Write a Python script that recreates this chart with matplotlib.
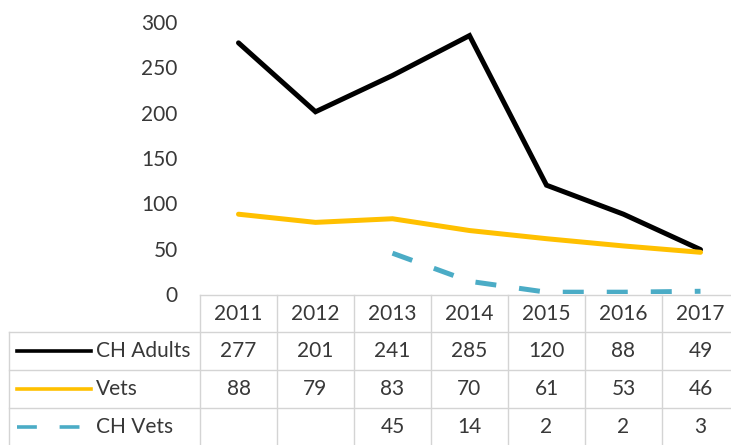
import numpy as np
import matplotlib
matplotlib.use("Agg")
import matplotlib.pyplot as plt
from matplotlib.lines import Line2D

years = ["2011", "2012", "2013", "2014", "2015", "2016", "2017"]
ch_adults = [277, 201, 241, 285, 120, 88, 49]
vets = [88, 79, 83, 70, 61, 53, 46]
ch_vets = [np.nan, np.nan, 45, 14, 2, 2, 3]
series_names = ["CH Adults", "Vets", "CH Vets"]
y_ticks = [0, 50, 100, 150, 200, 250, 300]

colors = ["#000000", "#FFC000", "#4BACC6"]
styles = ["-", "-", (0, (4.2, 4.6))]
key_styles = ["-", "-", (0, (5.5, 6.3))]
series = [ch_adults, vets, ch_vets]

W, H = 731, 445
fig = plt.figure(figsize=(W / 100, H / 100), dpi=100)
plt.rcParams['font.family'] = ['Lato', 'DejaVu Sans']
txt = "#383838"
grid = "#d4d4d4"
fs = 15

col_left, col_w = 200, 77
y0_px, y300_px = 294, 22
ax = fig.add_axes([col_left / W, (H - y0_px) / H, 7 * col_w / W, (y0_px - y300_px) / H])
x = np.arange(len(years))
for vals, c, ls in zip(series, colors, styles):
    ax.plot(x, vals, color=c, lw=3.6, ls=ls, solid_capstyle='round', dash_capstyle='butt',
            solid_joinstyle='miter')
ax.set_xlim(-0.5, 6.5)
ax.set_ylim(0, 300)
ax.set_yticks(y_ticks)
ax.set_yticklabels([str(v) for v in y_ticks], fontsize=fs, color=txt)
ax.tick_params(axis='y', length=0, pad=16)
ax.set_xticks([])
for s in ax.spines.values():
    s.set_visible(False)
ax.patch.set_alpha(0)

# table
tab = fig.add_axes([0, 0, 1, 1])
tab.set_xlim(0, W)
tab.set_ylim(H, 0)
tab.axis('off')
tab.patch.set_alpha(0)
row_tops = [295, 332, 370, 408, 446]
left_edge = 9
# horizontal lines
tab.plot([col_left, W], [row_tops[0]] * 2, color=grid, lw=1)
for yy in row_tops[1:4]:
    tab.plot([left_edge, W], [yy] * 2, color=grid, lw=1)
# vertical lines
tab.plot([left_edge] * 2, [row_tops[1], H], color=grid, lw=1)
for i in range(8):
    xx = col_left + i * col_w
    tab.plot([xx] * 2, [row_tops[0], H], color=grid, lw=1)
# header
for i, yr in enumerate(years):
    tab.text(col_left + (i + 0.5) * col_w, (row_tops[0] + row_tops[1]) / 2 + 1, yr,
             ha='center', va='center', fontsize=fs, color=txt)
# rows
for r, (name, vals, c, ls) in enumerate(zip(series_names, series, colors, key_styles)):
    yc = (row_tops[r + 1] + row_tops[r + 2]) / 2
    tab.add_line(Line2D([17, 91], [yc, yc], color=c, lw=2.6, ls=ls, dash_capstyle='butt'))
    tab.text(96, yc, name, ha='left', va='center', fontsize=fs, color=txt)
    for i, v in enumerate(vals):
        if not np.isnan(v):
            tab.text(col_left + (i + 0.5) * col_w, yc, str(int(v)), ha='center', va='center',
                     fontsize=fs, color=txt)

fig.savefig("out.png", dpi=100)
